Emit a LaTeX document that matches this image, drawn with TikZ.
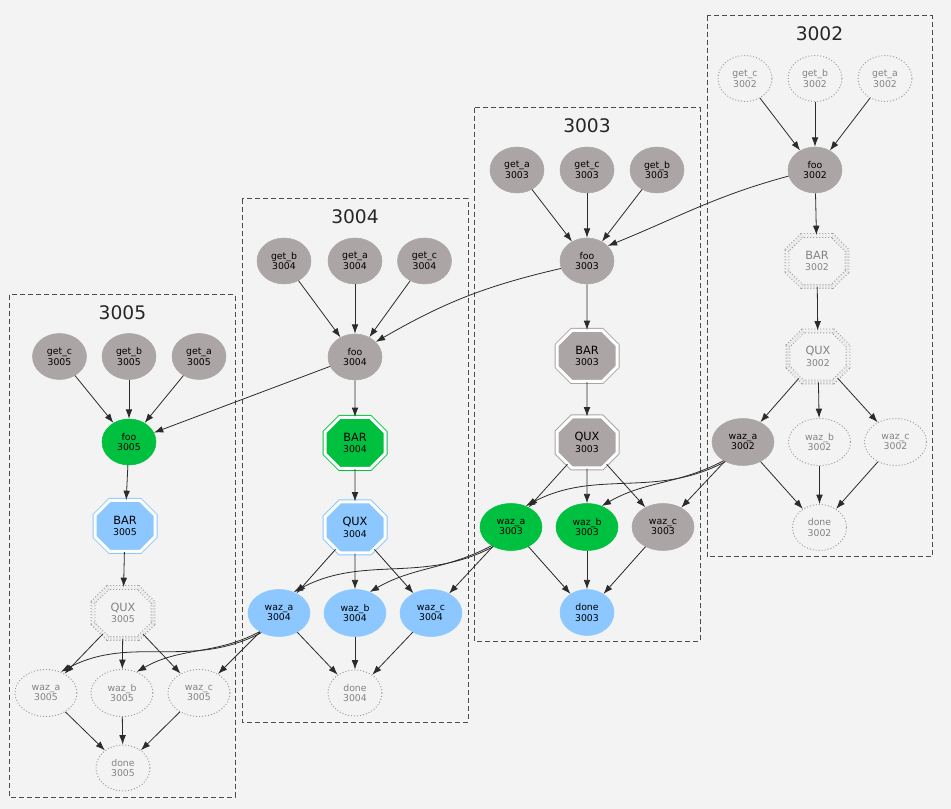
\documentclass[tikz,border=0pt]{standalone}
\usepackage{fontspec}
\setmainfont{DejaVu Sans}
\usetikzlibrary{shapes.geometric,shapes.misc,arrows.meta}
\definecolor{bgx}{HTML}{F3F3F3}
\definecolor{gyx}{HTML}{ACA5A5}
\definecolor{gnx}{HTML}{00C040}
\definecolor{bux}{HTML}{8CC8FF}
\definecolor{dtx}{HTML}{9A9A9A}
\definecolor{lnx}{HTML}{2B2B2B}
\newcommand\stagetxt[2]{{\fontsize{8.5}{10}\selectfont #1}\\[0.7pt]#2}

\begin{document}
\begin{tikzpicture}[
            x=0.75pt, y=-0.75pt,
            job/.style={ellipse, inner sep=0pt, minimum width=40.5pt, minimum height=34.5pt,
                align=center, font=\fontsize{7}{8}\selectfont},
            wide/.style={job, minimum width=46.5pt, minimum height=35.25pt},
            stage/.style={chamfered rectangle, chamfered rectangle xsep=9.5pt, inner sep=0pt,
                minimum width=45pt, minimum height=38.25pt, align=center,
                font=\fontsize{7}{8}\selectfont, line width=0.75pt,
                double=white, double distance=2.25pt},
            cached/.style={fill=gyx, draw=gyx},
            passed/.style={fill=gnx, draw=gnx},
            queued/.style={fill=bux, draw=bux},
            idle/.style={draw=dtx, text=dtx!85!black, line width=0.7pt,
                dash pattern=on 0.75pt off 1.5pt},
            flow/.style={draw=lnx, line width=0.6pt, -{Latex[length=7pt,width=5pt]}},
            cluster/.style={draw=black!70, line width=0.75pt, dash pattern=on 3.75pt off 2.25pt},
            title/.style={font=\fontsize{14}{16}\selectfont, text=black!85}
        ]
            \fill [bgx] (0,0) rectangle (951,809);
            \useasboundingbox (0,0) rectangle (951,809);

            % clusters
            \draw [cluster] (9,295) rectangle (235,797);
            \node [title] (t3005) at (122.5,312.5) {3005};
            \draw [cluster] (242,199) rectangle (468,722);
            \node [title] (t3004) at (355,217) {3004};
            \draw [cluster] (474,108) rectangle (700,641);
            \node [title] (t3003) at (587,126) {3003};
            \draw [cluster] (707,16) rectangle (932,557);
            \node [title] (t3002) at (819.5,34) {3002};

            % 3005
            \node [job,cached] (getC3005) at (59.5,356.5) {get\_c\\3005};
            \node [job,cached] (getB3005) at (129,356.5) {get\_b\\3005};
            \node [job,cached] (getA3005) at (199,356.5) {get\_a\\3005};
            \node [job,passed] (foo3005) at (129,442) {foo\\3005};
            \node [stage,queued] (bar3005) at (125,526) {\stagetxt{BAR}{3005}};
            \node [stage,idle,double=bgx] (qux3005) at (123,613) {\stagetxt{QUX}{3005}};
            \node [wide,idle] (wazA3005) at (46,693) {waz\_a\\3005};
            \node [wide,idle] (wazB3005) at (122,693) {waz\_b\\3005};
            \node [wide,idle] (wazC3005) at (199,693) {waz\_c\\3005};
            \node [job,idle] (done3005) at (123,768) {done\\3005};

            % 3004
            \node [job,cached] (getB3004) at (284,261) {get\_b\\3004};
            \node [job,cached] (getA3004) at (355,261) {get\_a\\3004};
            \node [job,cached] (getC3004) at (424.5,261) {get\_c\\3004};
            \node [job,cached] (foo3004) at (355,357) {foo\\3004};
            \node [stage,passed] (bar3004) at (355,443) {\stagetxt{BAR}{3004}};
            \node [stage,queued] (qux3004) at (355,527.5) {\stagetxt{QUX}{3004}};
            \node [wide,queued] (wazA3004) at (279,613) {waz\_a\\3004};
            \node [wide,queued] (wazB3004) at (355,613) {waz\_b\\3004};
            \node [wide,queued] (wazC3004) at (431,613) {waz\_c\\3004};
            \node [job,idle] (done3004) at (355,693) {done\\3004};

            % 3003
            \node [job,cached] (getA3003) at (517,170) {get\_a\\3003};
            \node [job,cached] (getC3003) at (587,170) {get\_c\\3003};
            \node [job,cached] (getB3003) at (657,170) {get\_b\\3003};
            \node [job,cached] (foo3003) at (587,261) {foo\\3003};
            \node [stage,cached] (bar3003) at (587,356) {\stagetxt{BAR}{3003}};
            \node [stage,cached] (qux3003) at (587,442.5) {\stagetxt{QUX}{3003}};
            \node [wide,passed] (wazA3003) at (511,527) {waz\_a\\3003};
            \node [wide,passed] (wazB3003) at (587,527) {waz\_b\\3003};
            \node [wide,cached] (wazC3003) at (663,527) {waz\_c\\3003};
            \node [job,queued] (done3003) at (587,612.5) {done\\3003};

            % 3002
            \node [job,idle] (getC3002) at (745,78.5) {get\_c\\3002};
            \node [job,idle] (getB3002) at (815,78.5) {get\_b\\3002};
            \node [job,idle] (getA3002) at (885,78.5) {get\_a\\3002};
            \node [job,cached] (foo3002) at (815,170) {foo\\3002};
            \node [stage,idle,double=bgx] (bar3002) at (817,261) {\stagetxt{BAR}{3002}};
            \node [stage,idle,double=bgx] (qux3002) at (818,356.5) {\stagetxt{QUX}{3002}};
            \node [wide,cached] (wazA3002) at (743,442) {waz\_a\\3002};
            \node [wide,idle] (wazB3002) at (819.5,442) {waz\_b\\3002};
            \node [wide,idle] (wazC3002) at (895.5,442) {waz\_c\\3002};
            \node [job,idle] (done3002) at (819.5,527.5) {done\\3002};

            \foreach \c in {3002,3003,3004,3005} {
                \foreach \g in {A,B,C} \draw [flow] (get\g\c) -- (foo\c);
                \draw [flow] (foo\c) -- (bar\c);
                \draw [flow] (bar\c) -- (qux\c);
                \foreach \w in {A,B,C} {
                    \draw [flow] (qux\c) -- (waz\w\c);
                    \draw [flow] (waz\w\c) -- (done\c);
                }
            }

            % between runs
            \draw [flow] (foo3002.193) to[out=195,in=22] (foo3003.36);
            \draw [flow] (foo3003.196) to[out=193,in=30] (foo3004.36);
            \draw [flow] (foo3004) -- (foo3005);
            \foreach \a/\b in {3002/3003,3003/3004,3004/3005} {
                \draw [flow] (wazA\a.228) to[out=208,in=28] (wazA\b.55);
                \draw [flow] (wazA\a.224) to[out=208,in=30] (wazB\b.55);
                \draw [flow] (wazA\a) -- (wazC\b);
            }
        \end{tikzpicture}
\end{document}
